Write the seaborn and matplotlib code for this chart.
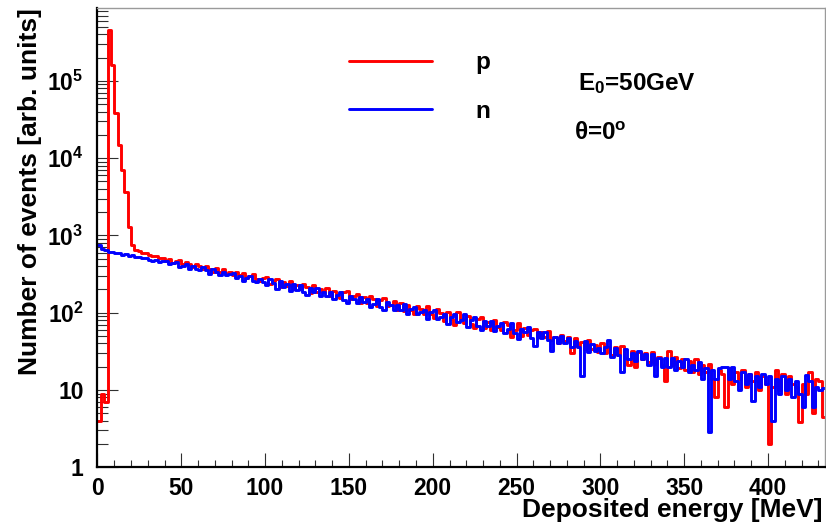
import numpy as np
import pandas as pd
import matplotlib
matplotlib.use("Agg")
import matplotlib.pyplot as plt
from matplotlib.ticker import LogLocator, FixedLocator, MultipleLocator, NullFormatter, FixedFormatter
import seaborn as sns

# ---------------- data ----------------
bin_width = 2.0          # MeV
x_range = (0.0, 434.0)   # MeV

# proton histogram, one value per 2 MeV bin (rows of 20 MeV)
proton = [
    4, 9, 7, 450000, 160000, 38000, 15000, 7000, 3600, 1300,
    750, 650, 620, 600, 585, 560, 550, 540, 515, 505,
    474, 500, 443, 467, 480, 427, 449, 423, 391, 427,
    408, 372, 408, 369, 340, 374, 341, 367, 319, 336,
    304, 336, 308, 328, 278, 296, 316, 271, 255, 282,
    290, 237, 261, 276, 217, 253, 222, 260, 203, 226,
    200, 234, 213, 178, 227, 185, 205, 186, 206, 163,
    190, 165, 153, 186, 189, 150, 165, 173, 132, 158,
    132, 164, 149, 121, 148, 154, 123, 126, 140, 110,
    135, 106, 126, 108, 96, 121, 111, 95, 121, 96,
    85, 111, 100, 77, 103, 84, 70, 101, 84, 74,
    92, 71, 63, 84, 89, 64, 76, 59, 80, 65,
    59, 75, 69, 49, 59, 73, 50, 64, 52, 59,
    62, 48, 56, 49, 58, 44, 49, 40, 51, 43,
    48, 30, 47, 37, 42, 34, 44, 34, 38, 31,
    40, 30, 36, 28, 36, 28, 37, 26, 21, 32,
    20, 31, 25, 30, 23, 31, 22, 27, 21, 13,
    32, 21, 27, 19, 25, 18, 24, 17, 25, 16,
    21, 17, 22, 14, 8, 18, 16, 6, 19, 12,
    17, 14, 18, 11, 16, 13, 17, 10, 15, 12,
    2, 11, 18, 10, 16, 9, 15, 12, 11, 3.9,
    12, 9, 17, 5, 14, 13, 4.5,
]

# neutron histogram, one value per 2 MeV bin (rows of 20 MeV)
neutron = [
    745, 672, 640, 602, 611, 585, 590, 566, 570, 548,
    552, 527, 530, 505, 512, 488, 470, 480, 455, 462,
    467, 423, 436, 454, 391, 404, 424, 365, 397, 366,
    355, 385, 352, 321, 366, 339, 309, 336, 307, 320,
    326, 281, 302, 258, 279, 298, 260, 247, 277, 248,
    226, 271, 241, 204, 258, 217, 234, 191, 232, 198,
    230, 187, 171, 207, 187, 212, 164, 185, 166, 188,
    151, 172, 185, 148, 133, 164, 152, 134, 162, 136,
    151, 120, 131, 150, 120, 109, 138, 125, 107, 125,
    109, 128, 97, 112, 119, 95, 101, 109, 83, 102,
    110, 83, 87, 97, 71, 89, 96, 75, 80, 95,
    66, 81, 89, 68, 59, 78, 68, 79, 58, 67,
    73, 54, 61, 74, 54, 46, 62, 56, 66, 47,
    37, 57, 47, 57, 44, 32, 49, 40, 50, 41,
    47, 36, 43, 36, 15, 43, 31, 39, 32, 35,
    30, 36, 45, 27, 35, 28, 17, 34, 25, 30,
    24, 32, 25, 29, 21, 29, 15, 26, 20, 26,
    20, 26, 18, 24, 20, 25, 17, 21, 18, 23,
    14, 19, 2.9, 18, 14, 19, 20, 20, 14, 20,
    13, 10, 17, 12, 16, 7.1, 15, 11, 16, 12,
    15, 4, 14, 9, 15, 10, 14, 8, 13, 9,
    6, 15.6, 13, 6, 11, 10, 10.5,
]

series_labels = ["p", "n"]
series_colors = ["#ff0000", "#0000ff"]

x_ticks = [0, 50, 100, 150, 200, 250, 300, 350, 400]
y_ticks = [1, 10, 100, 1000, 10000, 100000]
y_tick_labels = ["1", "10", "$10^{2}$", "$10^{3}$", "$10^{4}$", "$10^{5}$"]
y_max = 8.7e5

x_label = "Deposited energy [MeV]"
y_label = "Number of events [arb. units]"
note_energy = "E$_0$=50GeV"
note_angle = "\u03b8=0$^o$"

# ---------------- style ----------------
sns.set_style("ticks")
plt.rcParams.update({
    "font.family": ["Liberation Sans", "DejaVu Sans"],
    "font.weight": "bold",
    "axes.labelweight": "bold",
    "mathtext.fontset": "custom",
    "mathtext.rm": "Liberation Sans:bold",
    "mathtext.it": "Liberation Sans:bold:italic",
    "mathtext.bf": "Liberation Sans:bold",
    "mathtext.default": "rm",
    "text.color": "black",
    "axes.labelcolor": "black",
    "xtick.color": "black",
    "ytick.color": "black",
    "xtick.labelcolor": "black",
    "ytick.labelcolor": "black",
})

edges = np.arange(x_range[0], x_range[1] + bin_width / 2, bin_width)
centers = (edges[:-1] + edges[1:]) / 2
n_bins = len(centers)
assert len(proton) == n_bins and len(neutron) == n_bins

df = pd.DataFrame({
    "energy": np.concatenate([centers, centers]),
    "weight": np.array(proton + neutron, dtype=float),
    "particle": [series_labels[0]] * n_bins + [series_labels[1]] * n_bins,
})

fig = plt.figure(figsize=(8.26, 5.28), dpi=100)
ax = fig.add_axes([0.118, 0.115, 0.8808, 0.8693])

for lab, col in zip(series_labels, series_colors):
    sub = df[df["particle"] == lab]
    sns.histplot(data=sub, x="energy", weights="weight",
                 binwidth=bin_width, binrange=x_range,
                 element="step", fill=False, color=col, linewidth=2.1,
                 label=lab, ax=ax)

ax.set_yscale("log")
ax.set_xlim(*x_range)
ax.set_ylim(1, y_max)

# ticks
ax.xaxis.set_major_locator(FixedLocator(x_ticks))
ax.xaxis.set_minor_locator(MultipleLocator(10))
ax.yaxis.set_major_locator(FixedLocator(y_ticks))
ax.yaxis.set_major_formatter(FixedFormatter(y_tick_labels))
ax.yaxis.set_minor_locator(LogLocator(base=10, subs=np.arange(2, 10), numticks=20))
ax.yaxis.set_minor_formatter(NullFormatter())
ax.tick_params(axis="both", which="both", direction="in", top=False, right=False,
               labelsize=16.5, width=0.8, color="#303030", labelcolor="black")
ax.tick_params(axis="y", which="major", length=15, pad=10)
ax.tick_params(axis="y", which="minor", length=8)
ax.tick_params(axis="x", which="major", length=10, pad=7)
ax.tick_params(axis="x", which="minor", length=5.4)
for t in ax.get_xticklabels() + ax.get_yticklabels():
    t.set_fontweight("bold")

# spines
for s in ["left", "bottom"]:
    ax.spines[s].set_color("black")
    ax.spines[s].set_linewidth(1.6)
for s in ["top", "right"]:
    ax.spines[s].set_color("#9a9a9a")
    ax.spines[s].set_linewidth(1.0)

# axis labels
ax.set_xlabel(x_label, fontsize=19, fontweight="bold", loc="right", color="black")
ax.set_ylabel(y_label, fontsize=19, fontweight="bold", loc="top", color="black")
ax.xaxis.set_label_coords(0.996, -0.068)
ax.yaxis.set_label_coords(-0.076, 1.0)

# legend
handles, labels = ax.get_legend_handles_labels()
ax.legend(handles, labels, loc="upper left", bbox_to_anchor=(0.346, 0.9062),
          frameon=False, fontsize=17.5, handlelength=3.42, handletextpad=1.77,
          labelspacing=1.04, borderpad=0, borderaxespad=0)

ax.text(0.6605, 0.822, note_energy, transform=ax.transAxes, fontsize=17.5,
        fontweight="bold", va="baseline", ha="left", color="black")
ax.text(0.655, 0.713, note_angle, transform=ax.transAxes, fontsize=17.5,
        fontweight="bold", va="baseline", ha="left", color="black")

fig.savefig("out.png", dpi=100)
